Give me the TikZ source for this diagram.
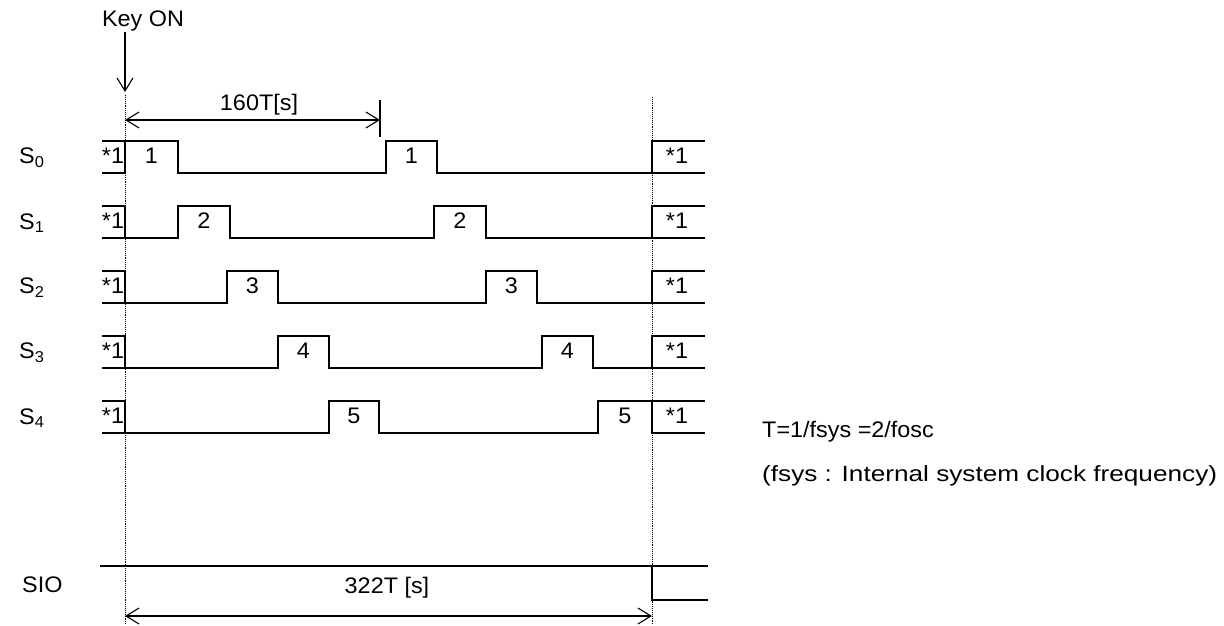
\documentclass[tikz,border=0pt]{standalone}
\usepackage{fontspec}
\setmainfont{Liberation Sans}[FakeStretch=1.04]
\newfontfamily\notefont{Liberation Sans}[FakeStretch=1.19]
\usetikzlibrary{arrows.meta, positioning}

\begin{document}
\begin{tikzpicture}[x=1pt, y=-1pt,
  wave/.style={line width=1.7pt, line join=miter},
  guide/.style={densely dotted, line width=0.9pt},
  dimline/.style={line width=1.1pt, {Straight Barb[length=13pt,width=16pt]}-{Straight Barb[length=13pt,width=16pt]}},
  lbl/.style={font=\fontsize{22.5}{27}\selectfont, inner sep=1pt},
  note/.style={font=\notefont\fontsize{22}{26}\selectfont, inner sep=1pt, anchor=west}]
  \useasboundingbox (0,0) rectangle (1224,626);

  % key on marker
  \node[lbl] (keyon) at (143,21) {Key ON};
  \coordinate (keyhit) at (125,92);
  \draw[line width=1.1pt, -{Straight Barb[length=13pt,width=16pt]}] (keyon.south -| keyhit) -- (keyhit);

  % time guides
  \coordinate (g0top) at (125,95);
  \coordinate (g0bot) at (125,624);
  \coordinate (g1top) at (652,97);
  \coordinate (g1bot) at (652,624);
  \draw[guide] (g0top) -- (g0bot);
  \draw[guide] (g1top) -- (g1bot);

  % 160T span
  \coordinate (d0) at (125,120);
  \coordinate (d1) at (380,120);
  \draw[dimline] (d0) -- (d1);
  \draw[line width=1.1pt] ([yshift=20pt]d1) -- ([yshift=-17pt]d1);
  \node[lbl] (half) at (259,105) {160T[s]};

  % strobe outputs S0..S4
  \foreach \k/\aone/\bone/\atwo/\btwo in {0/125/178/386/437, 1/178/230/434/486,
      2/227/278/486/537, 3/278/329/542/593, 4/329/379/598/652}{
    \pgfmathsetmacro{\yhi}{141+65*\k}
    \pgfmathsetmacro{\ylo}{\yhi+32}
    \pgfmathsetmacro{\ytxt}{\yhi+15}
    \pgfmathtruncatemacro{\num}{\k+1}
    \node[lbl, anchor=west] (s\k) at (18,\ytxt+2) {S\textsubscript{\k}};
    \draw[wave] (102,\yhi) -- (125,\yhi) -- (125,\ylo) -- (102,\ylo);
    \draw[wave] (125,\ylo) -- (\aone,\ylo) -- (\aone,\yhi) -- (\bone,\yhi) -- (\bone,\ylo)
      -- (\atwo,\ylo) -- (\atwo,\yhi) -- (\btwo,\yhi) -- (\btwo,\ylo) -- (705,\ylo);
    \draw[wave] (652,\ylo) -- (652,\yhi) -- (705,\yhi);
    \node[lbl] (pre\k) at (113,\ytxt) {*1};
    \node[lbl] (post\k) at (677,\ytxt) {*1};
    \node[lbl] (p\k a) at ({(\aone+\bone)/2},\ytxt) {\num};
    \node[lbl] (p\k b) at ({(\atwo+\btwo)/2},\ytxt) {\num};
  }

  % SIO
  \node[lbl, anchor=west] (sio) at (21,585) {SIO};
  \draw[wave] (100,566) -- (708,566);
  \draw[wave] (652,566) -- (652,600) -- (708,600);

  % 322T span
  \coordinate (e0) at (125,616);
  \coordinate (e1) at (652,616);
  \draw[dimline] (e0) -- (e1);
  \node[lbl] (full) at (387,588) {322T [s]};

  % notes
  \node[lbl, anchor=west] (tdef) at (761,432) {T=1/fsys =2/fosc};
  \node[note] (fdef) at (761,476) {(fsys : Internal system clock frequency)};
\end{tikzpicture}
\end{document}
